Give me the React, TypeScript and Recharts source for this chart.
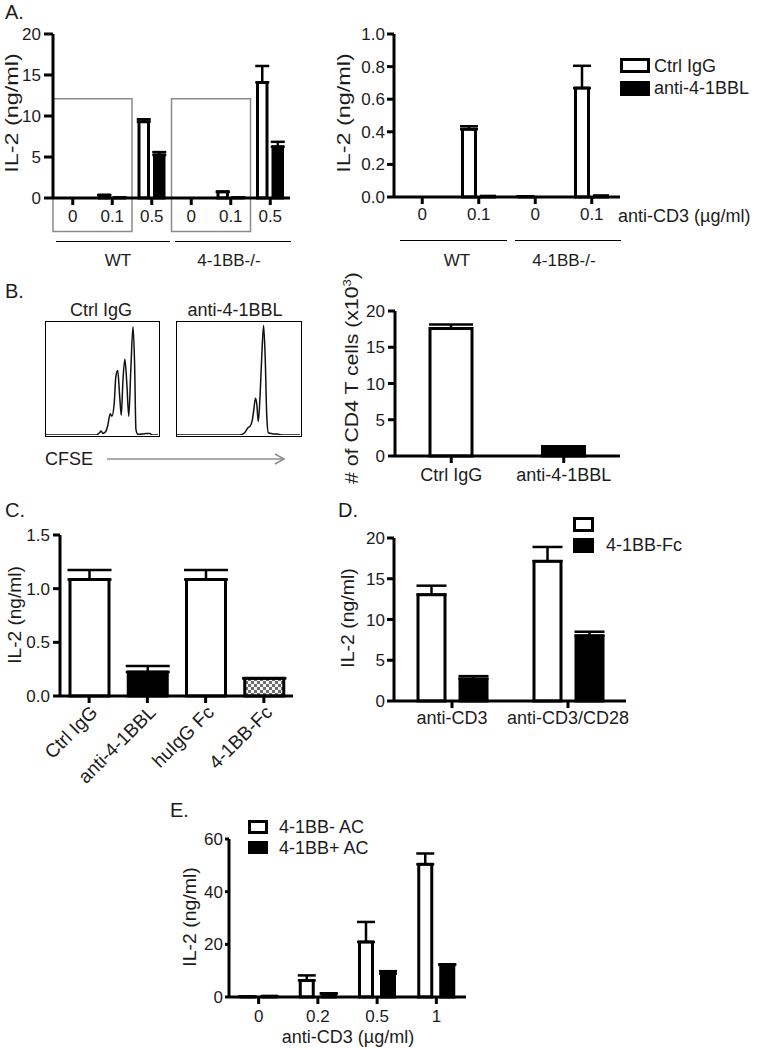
import React from "react";
import { BarChart, Bar, XAxis, YAxis, ErrorBar, ReferenceArea, LineChart, Line, Cell } from "recharts";

const FONT = '"Liberation Sans", Arial, Helvetica, sans-serif';
const INK = "#1c1c1c";

// Panel A, left: IL-2 by anti-CD3 dose and genotype
const aLeftCats = ["WT-0", "WT-0.1", "WT-0.5", "KO-0", "KO-0.1", "KO-0.5"];
const aLeftDose = ["0", "0.1", "0.5", "0", "0.1", "0.5"];
const aLeftCtrl = [0, 0.35, 9.3, 0, 0.75, 14.1];
const aLeftCtrlErr = [0, 0, 0.3, 0, 0, 2.0];
const aLeftAnti = [0, 0.03, 5.25, 0, 0.03, 6.25];
const aLeftAntiErr = [0, 0, 0.35, 0, 0, 0.6];
const aLeftTicks = [0, 5, 10, 15, 20];

// Panel A, right
const aRightCats = ["WT-0", "WT-0.1", "KO-0", "KO-0.1"];
const aRightDose = ["0", "0.1", "0", "0.1"];
const aRightCtrl = [0, 0.416, 0.003, 0.668];
const aRightCtrlErr = [0, 0.018, 0, 0.137];
const aRightAnti = [0, 0.005, 0, 0.008];
const aRightTicks = [0, 0.2, 0.4, 0.6, 0.8, 1.0];

// Panel B, CFSE histograms (x: % of box width, y: % of box height)
const ctrlHistX = [0, 44.9, 47.8, 49.3, 50.7, 53, 55, 57.4, 58.8, 60.9, 62.3, 64, 65.8, 67.2, 68.7, 70.4, 72.2, 73.9, 75.7, 77.7, 79.1, 80.3, 82, 88.4, 92.8, 94.8, 100];
const ctrlHistY = [0, 0, 2, 3.5, 1.4, 2.6, 7.8, 18.8, 16.5, 28, 51, 57, 34, 17.4, 48, 67, 45, 16.5, 57, 96, 63, 5, 0.6, 1.2, 1.4, 0, 0];
const antiHistX = [0, 51, 55, 57.7, 59.5, 61, 62.4, 63.8, 64.8, 66.1, 67.5, 69, 70.4, 71.7, 73, 74.3, 77.5, 81.5, 85.4, 100];
const antiHistY = [0, 0, 2, 6.4, 7.8, 12, 22, 32.5, 28, 12, 34, 71.6, 96.8, 68.7, 16.5, 2, 1.2, 0.8, 0, 0];

// Panel B, right: cell counts
const bCats = ["Ctrl IgG", "anti-4-1BBL"];
const bCount = [17.6, 1.3];
const bCountErr = [0.55, 0];
const bTicks = [0, 5, 10, 15, 20];

// Panel C
const cCats = ["Ctrl IgG", "anti-4-1BBL", "huIgG Fc", "4-1BB-Fc"];
const cVals = [1.085, 0.224, 1.085, 0.165];
const cErr = [0.09, 0.056, 0.09, 0];
const cFills = ["#fff", "#000", "#fff", "url(#checker)"];
const cTicks = [0, 0.5, 1.0, 1.5];

// Panel D
const dCats = ["anti-CD3", "anti-CD3/CD28"];
const dCtrl = [13.05, 17.15];
const dCtrlErr = [1.1, 1.75];
const dFc = [2.7, 8.0];
const dFcErr = [0.35, 0.5];
const dTicks = [0, 5, 10, 15, 20];

// Panel E
const eCats = ["0", "0.2", "0.5", "1"];
const eNeg = [0.1, 6.3, 20.9, 50.4];
const eNegErr = [0, 1.9, 7.6, 4.1];
const ePos = [0.3, 1.2, 8.9, 12.2];
const ePosErr = [0, 0.2, 0.9, 0.2];
const eTicks = [0, 20, 40, 60];

const aLeftData = aLeftCats.map((cat, i) => ({
  cat, ctrl: aLeftCtrl[i], ctrlErr: [0, aLeftCtrlErr[i]], anti: aLeftAnti[i], antiErr: [0, aLeftAntiErr[i]],
}));
const aRightData = aRightCats.map((cat, i) => ({
  cat, ctrl: aRightCtrl[i], ctrlErr: [0, aRightCtrlErr[i]], anti: aRightAnti[i],
}));
const bData = bCats.map((cat, i) => ({ cat, v: bCount[i], err: [0, bCountErr[i]] }));
const cData = cCats.map((cat, i) => ({ cat, v: cVals[i], err: [0, cErr[i]] }));
const dData = dCats.map((cat, i) => ({
  cat, ctrl: dCtrl[i], ctrlErr: [0, dCtrlErr[i]], fc: dFc[i], fcErr: [0, dFcErr[i]],
}));
const eData = eCats.map((cat, i) => ({
  cat, neg: eNeg[i], negErr: [0, eNegErr[i]], pos: ePos[i], posErr: [0, ePosErr[i]],
}));
const ctrlHist = ctrlHistX.map((x, i) => ({ x, y: ctrlHistY[i] }));
const antiHist = antiHistX.map((x, i) => ({ x, y: antiHistY[i] }));

const axisStroke = { stroke: "#000", strokeWidth: 3 };
const tickStyle = (size = 17) => ({ fontSize: size, fill: INK, fontFamily: FONT });

// place a chart so that its plot area lands on given page coordinates
function frame(pl: number, pt: number, pr: number, pb: number, yw: number, xh: number, mr = 6) {
  return {
    box: { position: "absolute" as const, left: pl - yw, top: pt - 10 },
    width: pr - pl + yw + mr,
    height: pb - pt + 10 + xh,
    margin: { top: 10, right: mr, bottom: 0, left: 0 },
  };
}

function Txt({ x, y, size = 17, anchor = "start", children }: any) {
  const tx = anchor === "middle" ? "-50%" : anchor === "end" ? "-100%" : "0";
  return (
    <div style={{ position: "absolute", left: x, top: y, transform: `translate(${tx},-50%)`, fontSize: size, color: INK, whiteSpace: "nowrap", lineHeight: 1 }}>
      {children}
    </div>
  );
}

// rotated axis title; stretch lengthens it along the reading direction like the source figure
function VTxt({ x, y, size = 18, stretch = 1, children }: any) {
  return (
    <div style={{ position: "absolute", left: x, top: y, transform: `translate(-50%,-50%) rotate(-90deg) scaleX(${stretch})`, fontSize: size, color: INK, whiteSpace: "nowrap", lineHeight: 1 }}>
      {children}
    </div>
  );
}

function HLine({ x1, x2, y }: any) {
  return <div style={{ position: "absolute", left: x1, top: y, width: x2 - x1, borderTop: "1.5px solid #000" }} />;
}

function LegendKey({ x, y, w, h, filled }: any) {
  return (
    <div style={{ position: "absolute", left: x, top: y, width: w, height: h, boxSizing: "border-box", border: "3px solid #000", background: filled ? "#000" : "#fff" }} />
  );
}

function Histogram({ x, y, w, h, data }: any) {
  return (
    <div style={{ position: "absolute", left: x, top: y, width: w, height: h, boxSizing: "border-box", border: "1.5px solid #000" }}>
      <LineChart width={w - 3} height={h - 3} data={data} margin={{ top: 0, right: 0, bottom: 0, left: 0 }}>
        <XAxis type="number" dataKey="x" domain={[0, 100]} hide />
        <YAxis type="number" domain={[0, 100]} hide width={0} />
        <Line type="monotone" dataKey="y" stroke="#111" strokeWidth={1.5} dot={false} isAnimationActive={false} />
      </LineChart>
    </div>
  );
}

export default function App() {
  const fAL = frame(53, 34, 290, 198, 53, 40);
  const fAR = frame(394, 34, 620, 197, 50, 40);
  const fB = frame(395, 311, 620, 456, 50, 40);
  const fC = frame(60, 535, 293, 696, 55, 110);
  const fD = frame(394, 538, 626, 701, 50, 40);
  const fE = frame(229, 839, 466, 997, 50, 36);

  return (
    <div style={{ position: "absolute", left: 0, top: 0, width: 759, height: 1049, background: "#fff", fontFamily: FONT, overflow: "hidden" }}>
      {/* ---------- A ---------- */}
      <Txt x={5} y={12} size={20}>A.</Txt>
      <VTxt x={12} y={113} size={18} stretch={1.3}>IL-2 (ng/ml)</VTxt>
      <div style={fAL.box}>
        <BarChart width={fAL.width} height={fAL.height} data={aLeftData} margin={fAL.margin} barSize={9.5} barGap={6}>
          <XAxis dataKey="cat" interval={0} height={40} axisLine={axisStroke} tickLine={axisStroke} tickSize={7} tickMargin={5}
            tick={tickStyle(17)} tickFormatter={(v: string) => aLeftDose[aLeftCats.indexOf(v)]} />
          <YAxis domain={[0, 20]} ticks={aLeftTicks} interval={0} width={53} axisLine={axisStroke} tickLine={axisStroke} tickSize={9} tickMargin={3} tick={tickStyle(17)} />
          <ReferenceArea x1="WT-0" x2="WT-0.1" y1={-4.1} y2={12.1} fill="none" stroke="#8a8a8a" strokeWidth={1.5} ifOverflow="visible" />
          <ReferenceArea x1="KO-0" x2="KO-0.1" y1={-4.1} y2={12.1} fill="none" stroke="#8a8a8a" strokeWidth={1.5} ifOverflow="visible" />
          <Bar dataKey="ctrl" fill="#fff" stroke="#000" strokeWidth={3} isAnimationActive={false}>
            <ErrorBar dataKey="ctrlErr" width={7} stroke="#000" strokeWidth={2.5} direction="y" />
          </Bar>
          <Bar dataKey="anti" fill="#000" stroke="#000" strokeWidth={3} isAnimationActive={false}>
            <ErrorBar dataKey="antiErr" width={7} stroke="#000" strokeWidth={2.5} direction="y" />
          </Bar>
        </BarChart>
      </div>
      <HLine x1={56} x2={170} y={241} />
      <HLine x1={175} x2={291} y={241} />
      <Txt x={118} y={260} anchor="middle">WT</Txt>
      <Txt x={229} y={260} anchor="middle">4-1BB-/-</Txt>

      <VTxt x={344} y={113} size={18} stretch={1.3}>IL-2 (ng/ml)</VTxt>
      <div style={fAR.box}>
        <BarChart width={fAR.width} height={fAR.height} data={aRightData} margin={fAR.margin} barSize={13} barGap={6}>
          <XAxis dataKey="cat" interval={0} height={40} axisLine={axisStroke} tickLine={axisStroke} tickSize={7} tickMargin={4}
            tick={tickStyle(17)} tickFormatter={(v: string) => aRightDose[aRightCats.indexOf(v)]} />
          <YAxis domain={[0, 1]} ticks={aRightTicks} interval={0} width={50} axisLine={axisStroke} tickLine={axisStroke} tickSize={7} tickMargin={2}
            tick={tickStyle(17)} tickFormatter={(v: number) => v.toFixed(1)} />
          <Bar dataKey="ctrl" fill="#fff" stroke="#000" strokeWidth={3} isAnimationActive={false}>
            <ErrorBar dataKey="ctrlErr" width={9} stroke="#000" strokeWidth={2.5} direction="y" />
          </Bar>
          <Bar dataKey="anti" fill="#000" stroke="#000" strokeWidth={3} isAnimationActive={false} />
        </BarChart>
      </div>
      <Txt x={618} y={216} size={18}>anti-CD3 (µg/ml)</Txt>
      <LegendKey x={620} y={58} w={30} h={15} />
      <LegendKey x={620} y={81} w={30} h={15} filled />
      <Txt x={654} y={66} size={18}>Ctrl IgG</Txt>
      <Txt x={654} y={88} size={18}>anti-4-1BBL</Txt>
      <HLine x1={400} x2={507} y={240} />
      <HLine x1={515} x2={621} y={240} />
      <Txt x={457} y={260} anchor="middle">WT</Txt>
      <Txt x={564} y={260} anchor="middle">4-1BB-/-</Txt>

      {/* ---------- B ---------- */}
      <Txt x={5} y={291} size={20}>B.</Txt>
      <Txt x={101} y={310} size={18} anchor="middle">Ctrl IgG</Txt>
      <Txt x={235} y={310} size={18} anchor="middle">anti-4-1BBL</Txt>
      <Histogram x={45} y={321} w={115} h={116} data={ctrlHist} />
      <Histogram x={176} y={321} w={126} h={116} data={antiHist} />
      <Txt x={45} y={459} size={18}>CFSE</Txt>
      <svg style={{ position: "absolute", left: 105, top: 452 }} width={185} height={14}>
        <line x1={2} y1={7} x2={178} y2={7} stroke="#8c8c8c" strokeWidth={1.5} />
        <polyline points="170,2 179,7 170,12" fill="none" stroke="#8c8c8c" strokeWidth={1.5} />
      </svg>

      <VTxt x={351} y={378} size={18} stretch={1.18}>
        # of CD4 T cells (x10<sup style={{ fontSize: 11 }}>3</sup>)
      </VTxt>
      <div style={fB.box}>
        <BarChart width={fB.width} height={fB.height} data={bData} margin={fB.margin} barSize={42}>
          <XAxis dataKey="cat" interval={0} height={40} axisLine={axisStroke} tickLine={axisStroke} tickSize={7} tickMargin={5} tick={tickStyle(18)} />
          <YAxis domain={[0, 20]} ticks={bTicks} interval={0} width={50} axisLine={axisStroke} tickLine={axisStroke} tickSize={7} tickMargin={3} tick={tickStyle(17)} />
          <Bar dataKey="v" stroke="#000" strokeWidth={3} isAnimationActive={false}>
            {bData.map((d, i) => <Cell key={d.cat} fill={i === 0 ? "#fff" : "#000"} />)}
            <ErrorBar dataKey="err" width={22} stroke="#000" strokeWidth={2.5} direction="y" />
          </Bar>
        </BarChart>
      </div>

      {/* ---------- C ---------- */}
      <Txt x={5} y={510} size={20}>C.</Txt>
      <VTxt x={15} y={615} size={18} stretch={1.06}>IL-2 (ng/ml)</VTxt>
      <div style={fC.box}>
        <BarChart width={fC.width} height={fC.height} data={cData} margin={fC.margin} barSize={39}>
          <defs>
            <pattern id="checker" width="6" height="6" patternUnits="userSpaceOnUse">
              <rect width="6" height="6" fill="#f4f4f4" />
              <rect width="3" height="3" fill="#6e6e6e" />
              <rect x="3" y="3" width="3" height="3" fill="#6e6e6e" />
            </pattern>
          </defs>
          <XAxis dataKey="cat" interval={0} height={110} axisLine={axisStroke} tickLine={axisStroke} tickSize={7} tickMargin={1}
            angle={-45} textAnchor="end" tick={tickStyle(19)} />
          <YAxis domain={[0, 1.5]} ticks={cTicks} interval={0} width={55} axisLine={axisStroke} tickLine={axisStroke} tickSize={7} tickMargin={3}
            tick={tickStyle(17)} tickFormatter={(v: number) => v.toFixed(1)} />
          <Bar dataKey="v" stroke="#000" strokeWidth={3} isAnimationActive={false}>
            {cData.map((d, i) => <Cell key={d.cat} fill={cFills[i]} />)}
            <ErrorBar dataKey="err" width={22} stroke="#000" strokeWidth={2.5} direction="y" />
          </Bar>
        </BarChart>
      </div>

      {/* ---------- D ---------- */}
      <Txt x={338} y={510} size={20}>D.</Txt>
      <VTxt x={348} y={618} size={18} stretch={1.08}>IL-2 (ng/ml)</VTxt>
      <div style={fD.box}>
        <BarChart width={fD.width} height={fD.height} data={dData} margin={fD.margin} barSize={27} barGap={15}>
          <XAxis dataKey="cat" interval={0} height={40} axisLine={axisStroke} tickLine={axisStroke} tickSize={7} tickMargin={3} tick={tickStyle(18)} />
          <YAxis domain={[0, 20]} ticks={dTicks} interval={0} width={50} axisLine={axisStroke} tickLine={axisStroke} tickSize={7} tickMargin={2} tick={tickStyle(17)} />
          <Bar dataKey="ctrl" fill="#fff" stroke="#000" strokeWidth={3} isAnimationActive={false}>
            <ErrorBar dataKey="ctrlErr" width={15} stroke="#000" strokeWidth={2.5} direction="y" />
          </Bar>
          <Bar dataKey="fc" fill="#000" stroke="#000" strokeWidth={3} isAnimationActive={false}>
            <ErrorBar dataKey="fcErr" width={15} stroke="#000" strokeWidth={2.5} direction="y" />
          </Bar>
        </BarChart>
      </div>
      <LegendKey x={573} y={517} w={21} h={15} />
      <LegendKey x={573} y={538} w={21} h={15} filled />
      <Txt x={606} y={545} size={18}>4-1BB-Fc</Txt>

      {/* ---------- E ---------- */}
      <Txt x={170} y={810} size={20}>E.</Txt>
      <VTxt x={190} y={917} size={18} stretch={1.08}>IL-2 (ng/ml)</VTxt>
      <div style={fE.box}>
        <BarChart width={fE.width} height={fE.height} data={eData} margin={fE.margin} barSize={13} barGap={9}>
          <XAxis dataKey="cat" interval={0} height={36} axisLine={axisStroke} tickLine={axisStroke} tickSize={7} tickMargin={6} tick={tickStyle(17)} />
          <YAxis domain={[0, 60]} ticks={eTicks} interval={0} width={50} axisLine={axisStroke} tickLine={axisStroke} tickSize={4} tickMargin={2} tick={tickStyle(17)} />
          <Bar dataKey="neg" fill="#fff" stroke="#000" strokeWidth={3} isAnimationActive={false}>
            <ErrorBar dataKey="negErr" width={9} stroke="#000" strokeWidth={2.5} direction="y" />
          </Bar>
          <Bar dataKey="pos" fill="#000" stroke="#000" strokeWidth={3} isAnimationActive={false}>
            <ErrorBar dataKey="posErr" width={9} stroke="#000" strokeWidth={2.5} direction="y" />
          </Bar>
        </BarChart>
      </div>
      <LegendKey x={248} y={820} w={20} h={14} />
      <LegendKey x={248} y={841} w={20} h={13} filled />
      <Txt x={279} y={827} size={18}>4-1BB- AC</Txt>
      <Txt x={279} y={848} size={18}>4-1BB+ AC</Txt>
      <Txt x={348} y={1037} size={18} anchor="middle">anti-CD3 (µg/ml)</Txt>
    </div>
  );
}
